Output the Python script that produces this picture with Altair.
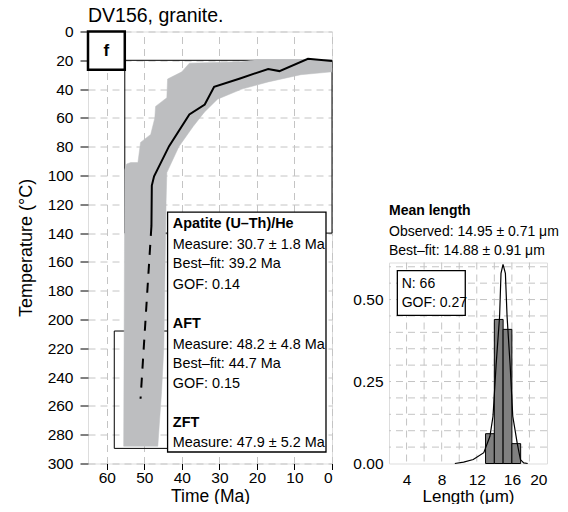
import altair as alt
import pandas as pd

FONT = "Liberation Sans"

# ---------------- Left panel: thermal history ----------------
env_t = [0, 20, 24, 38, 40, 43.8, 44, 47, 47.2, 48.3, 51, 51.7, 53.6, 54.7, 55.2, 55.5,
         46.4, 45.4, 44.8, 44.2, 44, 40.8, 37, 34, 30.5, 24, 17, 8.3, 0]
env_T = [19.5, 19.5, 21, 22, 28, 33, 46, 52, 60, 71.5, 77, 91, 91, 92, 96, 288,
         288, 250, 220, 118, 98, 80, 66, 56, 47, 40, 35, 30, 28]

fit_t = [0, 6.4, 14, 17, 24.5, 31.4, 33.9, 38, 43.4, 47.4, 48, 48.1]
fit_T = [20.5, 19, 27.5, 26, 32.6, 38.4, 50.7, 57.6, 79.6, 100.5, 107, 135]
dash_t = [48.1, 51]
dash_T = [135, 255]

box_t_old = [55.2, 58]
box_t_young = [0, 40]
box_T_top = [20, 208]
box_T_bot = [140, 289.5]

info_lines = ["Apatite (U\u2013Th)/He", "Measure: 30.7 \u00b1 1.8 Ma", "Best\u2013fit: 39.2 Ma", "GOF: 0.14",
              "AFT", "Measure: 48.2 \u00b1 4.8 Ma", "Best\u2013fit: 44.7 Ma", "GOF: 0.15",
              "ZFT", "Measure: 47.9 \u00b1 5.2 Ma"]
info_T = [134, 148, 161.5, 176, 203, 217.5, 231, 244.5, 272, 285.5]
info_bold = [True, False, False, False, True, False, False, False, True, False]

time_ticks = [0, 10, 20, 30, 40, 50, 60]
temp_ticks = list(range(0, 301, 20))

# ---------------- Right panel: track lengths ----------------
bin_lo = [13, 14, 15, 16]
bin_hi = [14, 15, 16, 17]
counts = [6, 29, 27, 4]
n_tracks = 66

curve_x = [9.5, 10.5, 11.6, 12.8, 13.5, 13.85, 14.2, 14.6, 14.76, 14.99, 15.26, 15.45, 15.8, 16.1, 16.6, 16.97, 17.35, 17.8]
curve_y = [0.0, 0.004, 0.012, 0.033, 0.083, 0.144, 0.3, 0.449, 0.58, 0.607, 0.58, 0.449, 0.3, 0.144, 0.063, 0.012, 0.002, 0.0]

len_ticks = [4, 8, 12, 16, 20]
frac_ticks = [0, 0.25, 0.5]
len_grid = [4, 6, 8, 10, 12, 14, 16, 18]
frac_grid = [round(0.05 * i, 2) for i in range(1, 13)]

head_lines = ["Mean length", "Observed: 14.95 \u00b1 0.71 \u03bcm", "Best\u2013fit: 14.88 \u00b1 0.91 \u03bcm"]
head_y = [-52, -31, -12]
head_bold = [True, False, False]

# ---------------- Build left chart ----------------
xs = alt.Scale(domain=[65, 0], nice=False, zero=False)
ys = alt.Scale(domain=[0, 300], reverse=True, nice=False, zero=False)
GRID = "#c4c4c4"

xaxis = alt.Axis(values=time_ticks, title="Time (Ma)", grid=True, gridDash=[7, 5], gridColor=GRID,
                 gridWidth=1, domain=False, tickColor="black", tickSize=6, labelPadding=1,
                 labelOverlap=False, labelFontSize=15.5, titleFontSize=17.5, titleFontWeight="normal",
                 labelColor="black", titleColor="black", titlePadding=1)
yaxis = alt.Axis(values=temp_ticks, title="Temperature (\u00b0C)", grid=True, gridDash=[7, 5], gridColor=GRID,
                 gridWidth=1, domain=False, tickColor="black", tickSize=8, labelPadding=7,
                 labelOverlap=False, labelFontSize=15.5, titleFontSize=18, titleFontWeight="normal",
                 labelColor="black", titleColor="black", titlePadding=12)

boxes = pd.DataFrame({"t1": box_t_old, "t2": box_t_young, "T1": box_T_top, "T2": box_T_bot})
base_boxes = alt.Chart(boxes).mark_rect(fill=None, stroke="black", strokeWidth=1).encode(
    x=alt.X("t1:Q", scale=xs, axis=xaxis), x2="t2:Q",
    y=alt.Y("T1:Q", scale=ys, axis=yaxis), y2="T2:Q")

env = pd.DataFrame({"t": env_t, "T": env_T, "i": list(range(len(env_t)))})
env_layer = alt.Chart(env).mark_line(fill="#bdbec0", stroke="#bdbec0", strokeWidth=0.5).encode(
    x=alt.X("t:Q", scale=xs, axis=xaxis), y=alt.Y("T:Q", scale=ys, axis=yaxis), order="i:Q")

fit = pd.DataFrame({"t": fit_t, "T": fit_T, "i": list(range(len(fit_t)))})
fit_layer = alt.Chart(fit).mark_line(color="black", strokeWidth=2).encode(
    x=alt.X("t:Q", scale=xs, axis=xaxis), y=alt.Y("T:Q", scale=ys, axis=yaxis), order="i:Q")

dash = pd.DataFrame({"t": dash_t, "T": dash_T, "i": [0, 1]})
dash_layer = alt.Chart(dash).mark_line(color="black", strokeWidth=2, strokeDash=[10, 9]).encode(
    x=alt.X("t:Q", scale=xs, axis=xaxis), y=alt.Y("T:Q", scale=ys, axis=yaxis), order="i:Q")

tbox = pd.DataFrame({"t1": [43.8], "t2": [1.6], "T1": [125.5], "T2": [292]})
tbox_layer = alt.Chart(tbox).mark_rect(fill="white", stroke="black", strokeWidth=1.3).encode(
    x=alt.X("t1:Q", scale=xs, axis=xaxis), x2="t2:Q", y=alt.Y("T1:Q", scale=ys, axis=yaxis), y2="T2:Q")

info = pd.DataFrame({"txt": info_lines, "T": info_T, "t": [42.4] * len(info_lines),
                     "w": ["bold" if b else "normal" for b in info_bold]})
info_norm = alt.Chart(info[info.w == "normal"]).mark_text(align="left", baseline="middle", fontSize=14.4,
                                                         font=FONT, color="black").encode(
    x=alt.X("t:Q", scale=xs, axis=xaxis), y=alt.Y("T:Q", scale=ys, axis=yaxis), text="txt:N")
info_bold_l = alt.Chart(info[info.w == "bold"]).mark_text(align="left", baseline="middle", fontSize=14.4,
                                                         fontWeight="bold", font=FONT, color="black").encode(
    x=alt.X("t:Q", scale=xs, axis=xaxis), y=alt.Y("T:Q", scale=ys, axis=yaxis), text="txt:N")

fbox = pd.DataFrame({"t1": [65], "t2": [55.2], "T1": [0], "T2": [26.5], "tc": [60.1], "Tc": [13.5], "lab": ["f"]})
fbox_layer = alt.Chart(fbox).mark_rect(fill="white", stroke="black", strokeWidth=2.5).encode(
    x=alt.X("t1:Q", scale=xs, axis=xaxis), x2="t2:Q", y=alt.Y("T1:Q", scale=ys, axis=yaxis), y2="T2:Q")
f_text = alt.Chart(fbox).mark_text(fontSize=17, fontWeight="bold", font=FONT, color="black",
                                   baseline="middle").encode(
    x=alt.X("tc:Q", scale=xs, axis=xaxis), y=alt.Y("Tc:Q", scale=ys, axis=yaxis), text="lab:N")

title_df = pd.DataFrame({"lab": ["DV156, granite."]})
title_layer = alt.Chart(title_df).mark_text(align="left", baseline="middle", fontSize=19.5, font=FONT,
                                            color="black").encode(
    x=alt.value(0), y=alt.value(-15.3), text="lab:N")

left = alt.layer(base_boxes, env_layer, fit_layer, dash_layer, tbox_layer, info_norm, info_bold_l,
                 fbox_layer, f_text, title_layer).properties(width=244, height=432)

# ---------------- Build right chart ----------------
lx = alt.Scale(domain=[2, 20], nice=False, zero=False)
ly = alt.Scale(domain=[0, 0.613], nice=False, zero=True)

lxaxis = alt.Axis(values=len_ticks, title="Length (\u03bcm)", grid=False, domain=False, ticks=False,
                  labelOverlap=False, labelPadding=9, labelFontSize=15.5, titleFontSize=17,
                  titleFontWeight="normal", labelColor="black", titleColor="black", titlePadding=0)
lyaxis = alt.Axis(values=frac_ticks, format=".2f", title=None, grid=False, domain=False, ticks=False,
                  labelOverlap=False, labelPadding=6, labelFontSize=15.5, labelColor="black")

gx = pd.DataFrame({"v": len_grid})
gy = pd.DataFrame({"v": frac_grid})
gx_layer = alt.Chart(gx).mark_rule(color=GRID, strokeDash=[7, 5], strokeWidth=1).encode(
    x=alt.X("v:Q", scale=lx, axis=lxaxis))
gy_layer = alt.Chart(gy).mark_rule(color=GRID, strokeDash=[7, 5], strokeWidth=1).encode(
    y=alt.Y("v:Q", scale=ly, axis=lyaxis))

hist = pd.DataFrame({"lo": bin_lo, "hi": bin_hi, "f": [c / n_tracks for c in counts]})
hist_layer = alt.Chart(hist).mark_rect(fill="#808080", stroke="black", strokeWidth=1).encode(
    x=alt.X("lo:Q", scale=lx, axis=lxaxis), x2="hi:Q", y=alt.Y("f:Q", scale=ly, axis=lyaxis), y2=alt.datum(0))

curve = pd.DataFrame({"x": curve_x, "y": curve_y, "i": list(range(len(curve_x)))})
curve_layer = alt.Chart(curve).mark_line(color="black", strokeWidth=1.2).encode(
    x=alt.X("x:Q", scale=lx, axis=lxaxis), y=alt.Y("y:Q", scale=ly, axis=lyaxis), order="i:Q")

nbox = pd.DataFrame({"x1": [2.95], "x2": [10.69], "y1": [0.588], "y2": [0.452]})
nbox_layer = alt.Chart(nbox).mark_rect(fill="white", stroke="black", strokeWidth=1.3).encode(
    x=alt.X("x1:Q", scale=lx, axis=lxaxis), x2="x2:Q", y=alt.Y("y1:Q", scale=ly, axis=lyaxis), y2="y2:Q")
ntext = pd.DataFrame({"x": [3.45, 3.45], "y": [0.546, 0.49], "lab": ["N: 66", "GOF: 0.27"]})
ntext_layer = alt.Chart(ntext).mark_text(align="left", baseline="middle", fontSize=14, font=FONT,
                                         color="black").encode(
    x=alt.X("x:Q", scale=lx, axis=lxaxis), y=alt.Y("y:Q", scale=ly, axis=lyaxis), text="lab:N")

head = pd.DataFrame({"lab": head_lines, "py": head_y, "w": ["bold" if b else "normal" for b in head_bold]})
head_norm = alt.Chart(head[head.w == "normal"]).mark_text(align="left", baseline="middle", fontSize=14,
                                                         font=FONT, color="black").encode(
    x=alt.value(0), y=alt.Y("py:Q", scale=None), text="lab:N")
head_bold_l = alt.Chart(head[head.w == "bold"]).mark_text(align="left", baseline="middle", fontSize=14,
                                                         fontWeight="bold", font=FONT, color="black").encode(
    x=alt.value(0), y=alt.Y("py:Q", scale=None), text="lab:N")

right = alt.layer(gx_layer, gy_layer, hist_layer, curve_layer, nbox_layer, ntext_layer,
                  head_norm, head_bold_l).properties(width=158, height=201)

spacer = alt.Chart(pd.DataFrame({"a": [0]})).mark_point(opacity=0).encode(
    x=alt.value(0), y=alt.value(0)).properties(width=158, height=231, view=alt.ViewBackground(stroke=None))

right_col = alt.vconcat(spacer, right, spacing=0, bounds="flush")

chart = alt.hconcat(left, right_col, spacing=57, bounds="flush").properties(
    padding={"left": 8, "top": -2.5, "right": 0, "bottom": -1.5}
).configure_view(stroke="black", strokeWidth=2.5).configure_axis(
    labelOverlap=False
).configure(font=FONT)

chart.save("out.html", embed_options={"renderer": "svg", "actions": False})
